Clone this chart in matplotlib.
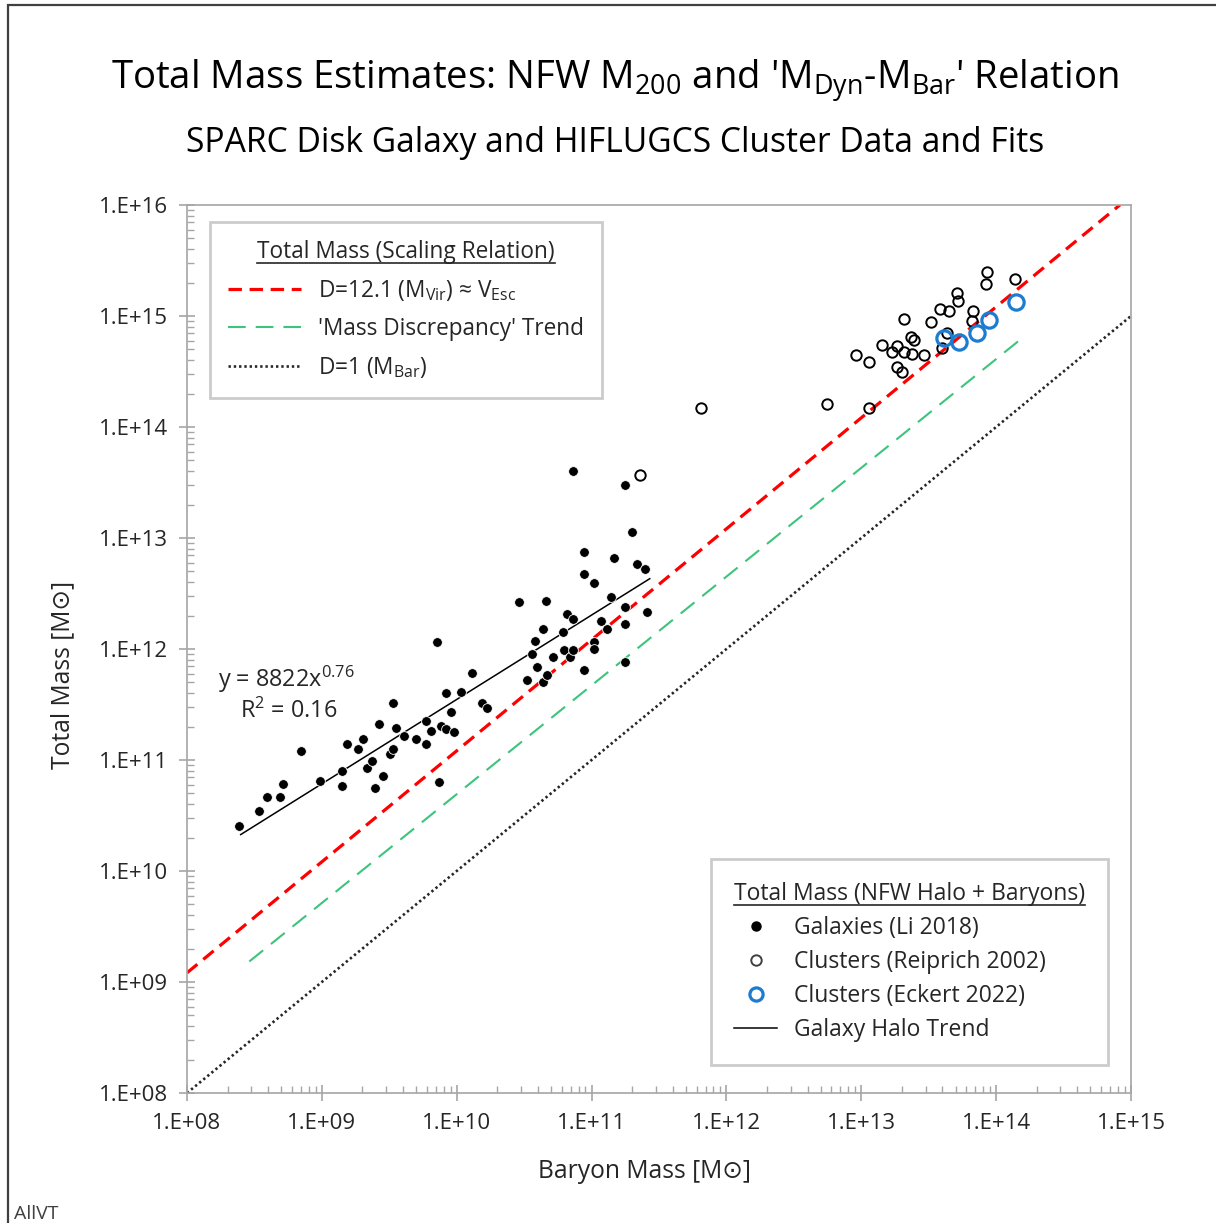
import numpy as np
import matplotlib
matplotlib.use('Agg')
import matplotlib.pyplot as plt
from matplotlib.lines import Line2D
from matplotlib.ticker import LogLocator, FuncFormatter

plt.rcParams['font.family'] = ['Open Sans', 'DejaVu Sans']
plt.rcParams['mathtext.fontset'] = 'custom'
plt.rcParams['mathtext.rm'] = 'Open Sans'
plt.rcParams['mathtext.it'] = 'Open Sans:italic'

# SPARC galaxies (Li 2018): log10 of baryon mass and total mass
gal_log_mbar = [8.388, 8.534, 8.595, 8.692, 8.710, 8.843, 8.988, 9.147, 9.147, 9.184,
                9.270, 9.303, 9.333, 9.370, 9.394, 9.426, 9.451, 9.505, 9.525, 9.525,
                9.550, 9.611, 9.698, 9.770, 9.770, 9.807, 9.856, 9.869, 9.881, 9.918,
                9.918, 9.955, 9.980, 10.029, 10.116, 10.190, 10.227, 10.464, 10.519, 10.556,
                10.580, 10.593, 10.642, 10.642, 10.662, 10.667, 10.716, 10.786, 10.795, 10.820,
                10.840, 10.864, 10.864, 10.860, 10.944, 10.944, 10.944, 11.018, 11.018, 11.018,
                11.068, 11.117, 11.142, 11.166, 11.250, 11.250, 11.250, 11.250, 11.300, 11.335,
                11.398, 11.411]
gal_log_mtot = [10.408, 10.543, 10.664, 10.664, 10.784, 11.081, 10.814, 10.904, 10.768, 11.141,
                11.096, 11.186, 10.925, 10.991, 10.750, 11.322, 10.859, 11.051, 11.096, 11.511,
                11.291, 11.216, 11.186, 11.141, 11.351, 11.261, 12.060, 10.799, 11.306, 11.601,
                11.277, 11.435, 11.255, 11.615, 11.781, 11.511, 11.466, 12.421, 11.721, 11.955,
                12.072, 11.841, 12.180, 11.705, 12.435, 11.766, 11.925, 12.150, 11.991, 12.315,
                11.925, 12.270, 11.991, 13.606, 12.877, 12.673, 11.811, 12.597, 12.066, 12.000,
                12.255, 12.180, 12.466, 12.817, 13.475, 12.376, 12.225, 11.883, 13.057, 12.763,
                12.718, 12.331]

# HIFLUGCS clusters (Reiprich 2002)
rei_log_mbar = [11.361, 11.809, 12.743, 13.059, 12.961, 13.059, 13.156, 13.230, 13.267, 13.267,
                13.304, 13.317, 13.319, 13.366, 13.391, 13.378, 13.465, 13.515, 13.584, 13.652,
                13.633, 13.601, 13.707, 13.719, 13.830, 13.819, 13.930, 13.925, 14.140]
rei_log_mtot = [13.565, 14.174, 14.205, 14.174, 14.649, 14.588, 14.739, 14.678, 14.730, 14.543,
                14.498, 14.678, 14.976, 14.814, 14.784, 14.658, 14.646, 14.949, 15.066, 15.048,
                14.850, 14.709, 15.205, 15.138, 15.048, 14.955, 15.394, 15.288, 15.333]

# Clusters (Eckert 2022)
eck_log_mbar = [13.613, 13.724, 13.856, 13.947, 14.147]
eck_log_mtot = [14.799, 14.768, 14.844, 14.964, 15.129]

# scaling relations
d_vir = 12.1
vir_x = [1e8, 8.3e14]
green_x = [2.9e8, 1.48e14]
green_coef, green_exp = 7.8, 0.98
bar_x = [1e8, 1e15]
trend_x = [2.5e8, 2.7e11]
trend_coef, trend_exp = 8822, 0.76

W, H = 1216, 1223
fig = plt.figure(figsize=(W / 100, H / 100), dpi=100)
ax = fig.add_axes([187 / W, 1 - 1093 / H, 944 / W, 888 / H])

frame_col = '#a6a6a6'
text_col = '#262626'

ax.set_xscale('log')
ax.set_yscale('log')
ax.set_xlim(1e8, 1e15)
ax.set_ylim(1e8, 1e16)

red_ls = (0, (4.2, 2.4))
green_ls = (0, (8.5, 4.8))
dot_ls = (0, (0.9, 1.1))

vx = np.array(vir_x)
ax.plot(vx, d_vir * vx, color='#ff0000', lw=2.3, ls=red_ls, zorder=2)
gx = np.array(green_x)
ax.plot(gx, green_coef * gx ** green_exp, color='#3cc47c', lw=1.5, ls=green_ls, zorder=2)
bx = np.array(bar_x)
ax.plot(bx, bx, color='#262626', lw=1.9, ls=dot_ls, zorder=2)
tx = np.logspace(np.log10(trend_x[0]), np.log10(trend_x[1]), 50)
ax.plot(tx, trend_coef * tx ** trend_exp, color='black', lw=1.1, zorder=4)

ax.plot(10 ** np.array(gal_log_mbar), 10 ** np.array(gal_log_mtot), 'o', color='black',
        mec='white', mew=0.6, ms=7, zorder=5)
ax.plot(10 ** np.array(rei_log_mbar), 10 ** np.array(rei_log_mtot), 'o', mfc='none',
        mec='black', mew=1.4, ms=7.5, zorder=5)
ax.plot(10 ** np.array(eck_log_mbar), 10 ** np.array(eck_log_mtot), 'o', mfc='none',
        mec='#1c7cd0', mew=2.3, ms=11, zorder=6)

for s in ax.spines.values():
    s.set_color(frame_col)
    s.set_linewidth(1.2)

ax.xaxis.set_major_locator(LogLocator(base=10, numticks=20))
ax.yaxis.set_major_locator(LogLocator(base=10, numticks=20))
ax.xaxis.set_minor_locator(LogLocator(base=10, subs=np.arange(2, 10), numticks=20))
ax.yaxis.set_minor_locator(LogLocator(base=10, subs=np.arange(2, 10), numticks=20))
fmt = FuncFormatter(lambda v, _: '1.E+%02d' % int(round(np.log10(v))))
ax.xaxis.set_major_formatter(fmt)
ax.yaxis.set_major_formatter(fmt)
ax.xaxis.set_minor_formatter(FuncFormatter(lambda v, _: ''))
ax.yaxis.set_minor_formatter(FuncFormatter(lambda v, _: ''))
ax.tick_params(which='major', direction='inout', length=11.5, width=1.2, color=frame_col,
               labelsize=16, labelcolor=text_col, pad=9)
ax.tick_params(which='minor', direction='in', length=5, width=1.0, color=frame_col)
ax.tick_params(axis='y', which='major', pad=8)

ax.text(218, H - 679, 'y = 8822x$^{0.76}$', transform=None, fontsize=16.8, color=text_col,
        va='center', ha='left')
ax.text(240, H - 711, 'R$^{2}$ = 0.16', transform=None, fontsize=16.8, color=text_col,
        va='center', ha='left')

# legend 1: scaling relations
h1 = [Line2D([], [], color='#ff0000', lw=2.3, ls=red_ls),
      Line2D([], [], color='#3cc47c', lw=1.5, ls=green_ls),
      Line2D([], [], color='#262626', lw=1.9, ls=dot_ls)]
l1 = ['D=12.1 (M$_{\\mathrm{Vir}}$) ≈ V$_{\\mathrm{Esc}}$', "'Mass Discrepancy' Trend",
      'D=1 (M$_{\\mathrm{Bar}}$)']
leg1 = ax.legend(h1, l1, title='Total Mass (Scaling Relation)', loc='upper left',
                 bbox_to_anchor=(23 / 944, 871 / 888), borderaxespad=0, fontsize=16.3,
                 title_fontsize=16.3, frameon=True, fancybox=False, edgecolor='#bfbfbf',
                 handlelength=3.2, handletextpad=0.75, labelspacing=0.62, borderpad=0.8,
                 labelcolor=text_col)
leg1.get_frame().set_linewidth(2)
leg1.get_title().set_color(text_col)
ax.add_artist(leg1)

# legend 2: NFW estimates
h2 = [Line2D([], [], ls='none', marker='o', color='black', ms=6.5),
      Line2D([], [], ls='none', marker='o', mfc='none', mec='#404040', mew=1.4, ms=7.5),
      Line2D([], [], ls='none', marker='o', mfc='none', mec='#1c7cd0', mew=2.3, ms=9.5),
      Line2D([], [], color='black', lw=1.1)]
l2 = ['Galaxies (Li 2018)', 'Clusters (Reiprich 2002)', 'Clusters (Eckert 2022)',
      'Galaxy Halo Trend']
leg2 = ax.legend(h2, l2, title='Total Mass (NFW Halo + Baryons)', loc='lower right',
                 bbox_to_anchor=(921 / 944, 28 / 888), borderaxespad=0, fontsize=16.5,
                 title_fontsize=16.5, frameon=True, fancybox=False, edgecolor='#bfbfbf',
                 handlelength=1.9, handletextpad=0.7, labelspacing=0.44, borderpad=1.0,
                 labelcolor=text_col, alignment='left')
leg2.get_frame().set_linewidth(2)
leg2.get_title().set_color(text_col)

fig.text(615 / W, 1 - 89 / H, "Total Mass Estimates: NFW M$_{200}$ and 'M$_{\\mathrm{Dyn}}$-M$_{\\mathrm{Bar}}$' Relation",
         ha='center', va='baseline', fontsize=27.6, color='black')
fig.text(615 / W, 1 - 152 / H, 'SPARC Disk Galaxy and HIFLUGCS Cluster Data and Fits',
         ha='center', va='baseline', fontsize=24.2, color='black')
fig.text(63 / W, 1 - 675 / H, 'Total Mass [M⊙]', rotation=90, ha='center', va='center',
         fontsize=17.7, color=text_col)
fig.text(645 / W, 1 - 1172 / H, 'Baryon Mass [M⊙]', ha='center', va='center',
         fontsize=17.7, color=text_col)
fig.text(14 / W, 1 - 1214 / H, 'AllVT', ha='left', va='center', fontsize=14, color='#404040')

# outer chart border
fig.add_artist(plt.Rectangle((8 / W, -0.01), 1.0, 1 - 5 / H + 0.01, transform=fig.transFigure,
                             fill=False, edgecolor='#404040', lw=1.6))

# underline the legend titles
fig.canvas.draw()
r = fig.canvas.get_renderer()
inv = fig.transFigure.inverted()
for lg in (leg1, leg2):
    bb = lg.get_title().get_window_extent(r)
    (x0, y0), (x1, _) = inv.transform([(bb.x0, bb.y0 + 1), (bb.x1, bb.y0 + 1)])
    fig.add_artist(Line2D([x0, x1], [y0, y0], transform=fig.transFigure, color=text_col, lw=1.2))

fig.savefig('out.png', dpi=100)
